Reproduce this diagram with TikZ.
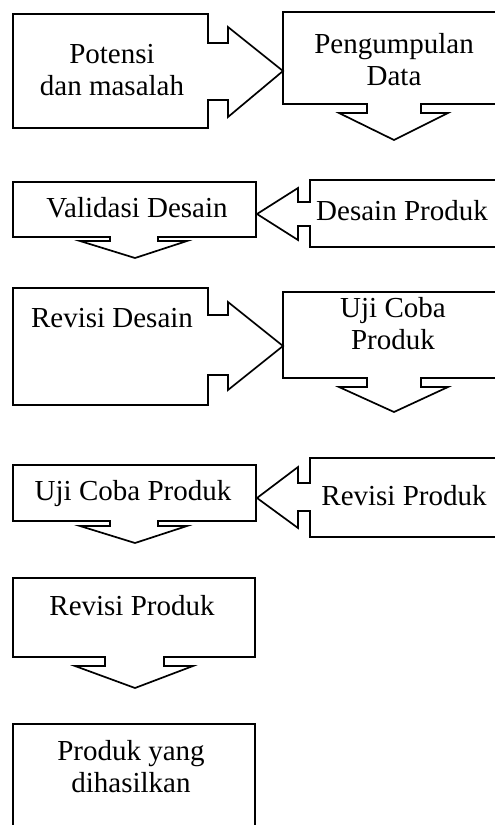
\documentclass[tikz,border=0pt]{standalone}
\usepackage{fontspec}
\setmainfont{Liberation Serif}

\begin{document}
\begin{tikzpicture}[x=1pt, y=-1pt, line width=1.7pt, line join=miter,
    txt/.style={font=\fontsize{29}{32}\selectfont, align=center, inner sep=0pt}]
    \useasboundingbox (0,0) rectangle (495,825);
    \clip (0,0) rectangle (495,825);

    % row 1
    \draw (13,14) -- (208,14) -- (208,43) -- (228,43) -- (228,27) -- (283,71) -- (228,117) -- (228,100) -- (208,100) -- (208,128) -- (13,128) -- cycle;
    \draw (520,12) -- (283,12) -- (283,104) -- (367,104) -- (367,113) -- (339,113) -- (394,140) -- (448,113) -- (421,113) -- (421,104) -- (520,104);
    \node[txt] (potensi) at (112,70) {Potensi\\dan masalah};
    \node[txt] (pengumpulan) at (394,60) {Pengumpulan\\Data};

    % row 2
    \draw (13,182) -- (256,182) -- (256,237) -- (158,237) -- (158,241) -- (187,241) -- (135,258) -- (80,241) -- (110,241) -- (110,237) -- (13,237) -- cycle;
    \draw (520,180) -- (310,180) -- (310,202) -- (298,202) -- (298,188) -- (257,214) -- (298,240) -- (298,226) -- (310,226) -- (310,247) -- (520,247);
    \node[txt, anchor=base] (validasi) at (137,217) {Validasi Desain};
    \node[txt, anchor=base] (desain) at (402,220) {Desain Produk};

    % row 3
    \draw (13,288) -- (208,288) -- (208,315) -- (228,315) -- (228,302) -- (283,346) -- (228,390) -- (228,375) -- (208,375) -- (208,405) -- (13,405) -- cycle;
    \draw (520,292) -- (283,292) -- (283,378) -- (367,378) -- (367,387) -- (339,387) -- (394,412) -- (448,387) -- (421,387) -- (421,378) -- (520,378);
    \node[txt, anchor=base] (revisidesain) at (112,327) {Revisi Desain};
    \node[txt] (ujicoba1) at (393,324) {Uji Coba\\Produk};

    % row 4
    \draw (13,465) -- (256,465) -- (256,521) -- (158,521) -- (158,526) -- (187,526) -- (135,543) -- (80,526) -- (110,526) -- (110,521) -- (13,521) -- cycle;
    \draw (520,458) -- (310,458) -- (310,483) -- (298,483) -- (298,467) -- (257,498) -- (298,528) -- (298,511) -- (310,511) -- (310,537) -- (520,537);
    \node[txt, anchor=base] (ujicoba2) at (133,500) {Uji Coba Produk};
    \node[txt, anchor=base] (revisiproduk1) at (404,505) {Revisi Produk};

    % row 5 and 6
    \draw (13,578) -- (255,578) -- (255,657) -- (164,657) -- (164,666) -- (193,666) -- (135,688) -- (75,666) -- (105,666) -- (105,657) -- (13,657) -- cycle;
    \draw (13,840) -- (13,724) -- (255,724) -- (255,840);
    \node[txt, anchor=base] (revisiproduk2) at (132,615) {Revisi Produk};
    \node[txt] (hasil) at (131,767) {Produk yang\\dihasilkan};
\end{tikzpicture}
\end{document}
